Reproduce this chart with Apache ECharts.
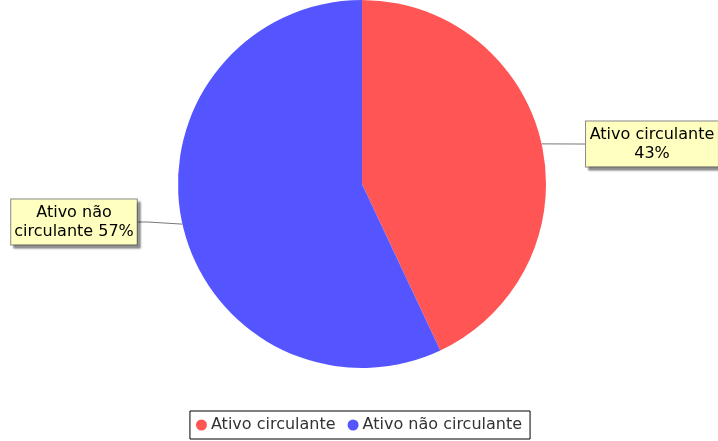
<!DOCTYPE html>
<html>
<head>
<meta charset="UTF-8">
<title>Ativo</title>
<script type="text/javascript" src="https://cdn.jsdelivr.net/npm/echarts@6/dist/echarts.min.js"></script>
<style>
html, body { margin: 0; padding: 0; background: #fff; }
</style>
</head>
<body>
<div id="pie" style="width:718px; height:441px"></div>
<script type="text/javascript">
// dados do grafico
var categorias = ['Ativo circulante', 'Ativo não circulante'];
var valores = [43, 57];
var cores = ['#FF5555', '#5555FF'];
var textos = ['Ativo circulante\n43%', 'Ativo não\ncirculante 57%'];

var myChart = echarts.init(document.getElementById('pie'));

var option = {
    animation: false,
    textStyle: { fontFamily: 'DejaVu Sans' },
    color: cores,
    legend: {
        data: categorias,
        left: 'center',
        top: 411,
        icon: 'circle',
        itemWidth: 11,
        itemHeight: 11,
        itemGap: 12,
        padding: [6, 8, 6, 6],
        borderColor: '#000',
        borderWidth: 1,
        textStyle: { fontSize: 16, color: '#333', padding: [0, 0, 0, -1] }
    },
    series: [{
        type: 'pie',
        center: [362, 184],
        radius: 184,
        startAngle: 90,
        clockwise: true,
        data: categorias.map(function (c, i) {
            return { name: c, value: valores[i] };
        }),
        label: {
            show: true,
            formatter: function (p) { return textos[p.dataIndex]; },
            overflow: 'none',
            fontSize: 16,
            lineHeight: 19,
            color: '#000',
            backgroundColor: '#FFFFC0',
            borderColor: '#888',
            borderWidth: 1,
            padding: [4, 3, 3, 3],
            shadowColor: 'rgba(0,0,0,0.35)',
            shadowOffsetX: 3,
            shadowOffsetY: 3,
            shadowBlur: 2
        },
        labelLine: {
            show: true,
            length: 20,
            length2: 10,
            lineStyle: { color: '#777', width: 1 }
        },
        labelLayout: function (p) {
            if (p.dataIndex === 0) {
                return { x: 652, y: 144, align: 'center', verticalAlign: 'middle' };
            }
            return { x: 74, y: 222, align: 'center', verticalAlign: 'middle' };
        },
        emphasis: { disabled: true }
    }]
};
myChart.setOption(option);
</script>
</body>
</html>
